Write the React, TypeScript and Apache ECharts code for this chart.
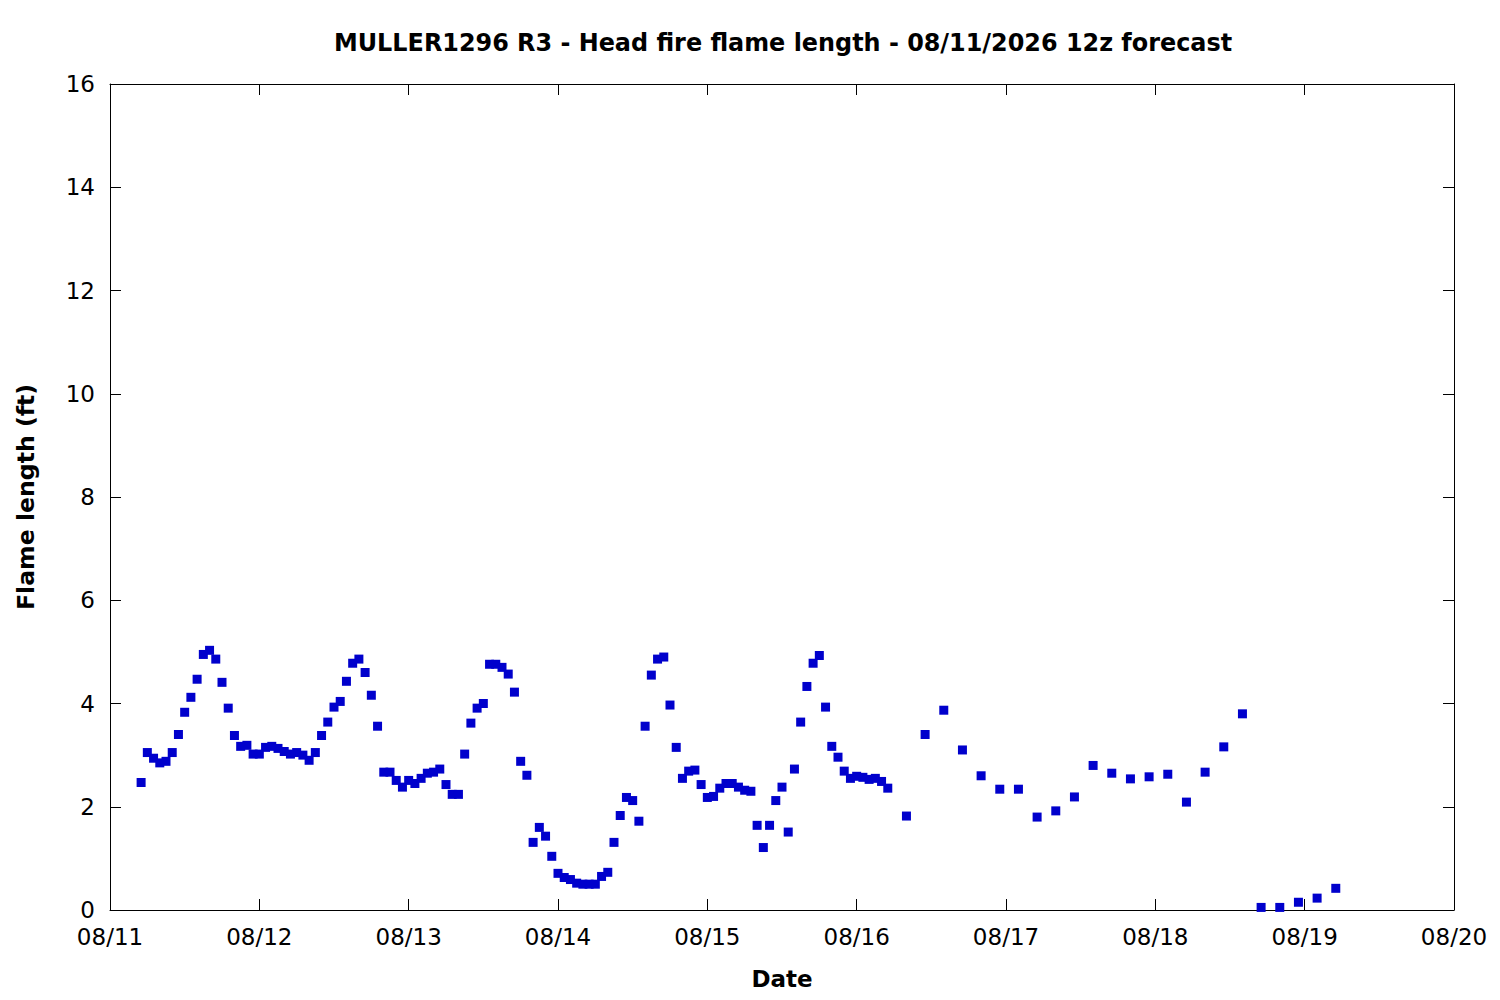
import React, { useEffect, useRef } from "react";
import * as echarts from "echarts";

const titleText = "MULLER1296 R3 - Head fire flame length - 08/11/2026 12z forecast";
const xAxisTitle = "Date";
const yAxisTitle = "Flame length (ft)";

// hours since 08/11 00z
const hours = [
  5, 6, 7, 8, 9, 10, 11, 12, 13, 14, 15, 16, 17, 18, 19, 20, 21, 22, 23, 24,
  25, 26, 27, 28, 29, 30, 31, 32, 33, 34, 35, 36, 37, 38, 39, 40, 41, 42, 43, 44,
  45, 46, 47, 48, 49, 50, 51, 52, 53, 54, 55, 56, 57, 58, 59, 60, 61, 62, 63, 64,
  65, 66, 67, 68, 69, 70, 71, 72, 73, 74, 75, 76, 77, 78, 79, 80, 81, 82, 83, 84,
  85, 86, 87, 88, 89, 90, 91, 92, 93, 94, 95, 96, 97, 98, 99, 100, 101, 102, 103, 104,
  105, 106, 107, 108, 109, 110, 111, 112, 113, 114, 115, 116, 117, 118, 119, 120, 121, 122, 123, 124,
  125, 128, 131, 134, 137, 140, 143, 146, 149, 152, 155, 158, 161, 164, 167, 170, 173, 176, 179, 182,
  185, 188, 191, 194, 197,
];

const flameLength = [
  2.47, 3.05, 2.94, 2.85, 2.88, 3.05, 3.40, 3.83, 4.12, 4.47, 4.95, 5.03, 4.86, 4.41, 3.91, 3.38, 3.17, 3.19, 3.02, 3.02,
  3.15, 3.17, 3.13, 3.07, 3.02, 3.05, 3.00, 2.90, 3.05, 3.38, 3.64, 3.93, 4.04, 4.43, 4.78, 4.86, 4.60, 4.16, 3.56, 2.67,
  2.67, 2.51, 2.38, 2.51, 2.45, 2.55, 2.65, 2.67, 2.73, 2.43, 2.24, 2.24, 3.02, 3.62, 3.91, 4.00, 4.76, 4.76, 4.70, 4.57,
  4.22, 2.88, 2.61, 1.31, 1.60, 1.43, 1.04, 0.71, 0.63, 0.59, 0.52, 0.50, 0.50, 0.50, 0.65, 0.73, 1.31, 1.83, 2.18, 2.12,
  1.72, 3.56, 4.55, 4.86, 4.90, 3.97, 3.15, 2.55, 2.69, 2.71, 2.43, 2.18, 2.20, 2.36, 2.45, 2.45, 2.38, 2.32, 2.30, 1.64,
  1.21, 1.64, 2.12, 2.38, 1.51, 2.73, 3.64, 4.33, 4.78, 4.93, 3.93, 3.17, 2.96, 2.69, 2.55, 2.59, 2.57, 2.53, 2.55, 2.49,
  2.36, 1.82, 3.40, 3.87, 3.10, 2.60, 2.34, 2.34, 1.80, 1.92, 2.19, 2.80, 2.65, 2.54, 2.58, 2.63, 2.09, 2.67, 3.16, 3.80,
  0.05, 0.05, 0.15, 0.23, 0.42,
];

const dateTickLabels = ["08/11", "08/12", "08/13", "08/14", "08/15", "08/16", "08/17", "08/18", "08/19", "08/20"];
const yTickStep = 2;
const yMax = 16;
const hoursPerDay = 24;

const FONT = "DejaVu Sans";

export default function App() {
  const ref = useRef<HTMLDivElement>(null);

  useEffect(() => {
    if (!ref.current) return;
    const chart = echarts.init(ref.current, null, { renderer: "svg" });
    const xMax = (dateTickLabels.length - 1) * hoursPerDay;
    const axisLine = { show: true, onZero: false, lineStyle: { color: "#000", width: 1 } };
    const axisTick = { show: true, inside: true, length: 11, lineStyle: { color: "#000", width: 1 } };

    chart.setOption({
      animation: false,
      backgroundColor: "#fff",
      title: {
        text: titleText,
        left: 778,
        textAlign: "center",
        top: 26,
        textStyle: { fontFamily: FONT, fontWeight: "bold", fontSize: 23.9, color: "#000" },
      },
      grid: { left: 110, right: 46, top: 84, bottom: 90, containLabel: false },
      xAxis: [
        {
          type: "value",
          min: 0,
          max: xMax,
          interval: hoursPerDay,
          position: "bottom",
          axisLine,
          axisTick,
          splitLine: { show: false },
          axisLabel: {
            margin: 15,
            fontFamily: FONT,
            fontSize: 23,
            color: "#000",
            formatter: (v: number) => dateTickLabels[Math.round(v / hoursPerDay)] ?? "",
          },
          name: xAxisTitle,
          nameLocation: "middle",
          nameGap: 57,
          nameTextStyle: { fontFamily: FONT, fontWeight: "bold", fontSize: 23, color: "#000" },
        },
        {
          type: "value",
          min: 0,
          max: xMax,
          interval: hoursPerDay,
          position: "top",
          axisLine,
          axisTick,
          splitLine: { show: false },
          axisLabel: { show: false },
        },
      ],
      yAxis: [
        {
          type: "value",
          min: 0,
          max: yMax,
          interval: yTickStep,
          position: "left",
          axisLine,
          axisTick,
          splitLine: { show: false },
          axisLabel: { margin: 15, fontFamily: FONT, fontSize: 23, color: "#000" },
          name: yAxisTitle,
          nameLocation: "middle",
          nameGap: 72,
          nameTextStyle: { fontFamily: FONT, fontWeight: "bold", fontSize: 23.6, color: "#000" },
        },
        {
          type: "value",
          min: 0,
          max: yMax,
          interval: yTickStep,
          position: "right",
          axisLine,
          axisTick,
          splitLine: { show: false },
          axisLabel: { show: false },
        },
      ],
      series: [
        {
          type: "scatter",
          xAxisIndex: 0,
          yAxisIndex: 0,
          symbol: "rect",
          symbolSize: 9,
          itemStyle: { color: "#0000CC", opacity: 1 },
          data: hours.map((h, i) => [h, flameLength[i]]),
        },
      ],
    });
    return () => chart.dispose();
  }, []);

  return (
    <div
      ref={ref}
      style={{ position: "absolute", left: 0, top: 0, width: 1500, height: 1000, background: "#fff" }}
    />
  );
}
